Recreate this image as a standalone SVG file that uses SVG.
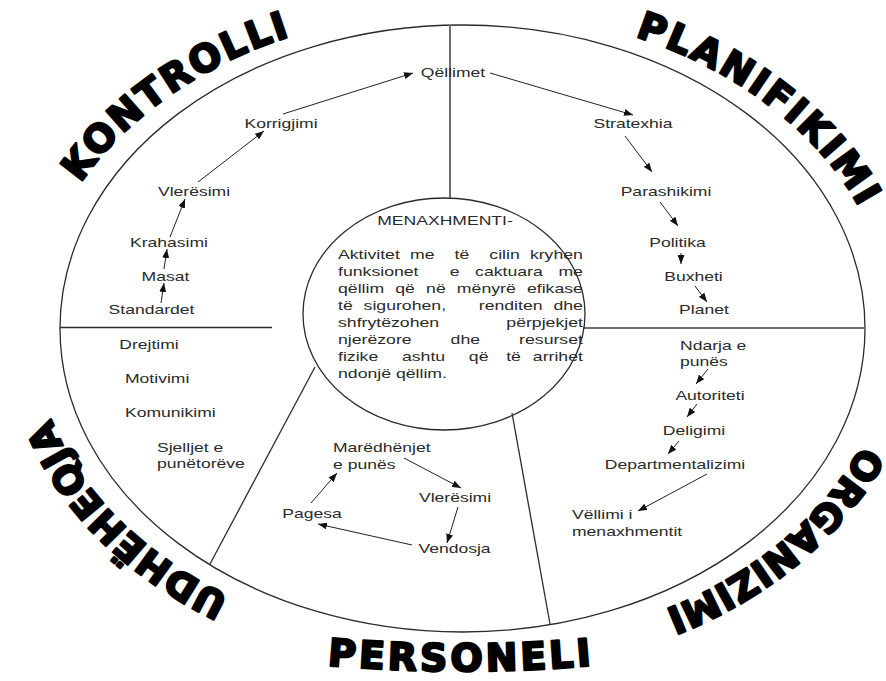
<svg xmlns="http://www.w3.org/2000/svg" width="886" height="681" viewBox="0 0 886 681">
<style>
.frame{fill:none;stroke:#2b2b2b;stroke-width:1.3}
.gray{stroke:#6e6e6e;stroke-width:2;fill:none}
.t{font-family:"Liberation Sans",Arial,sans-serif;font-size:13px;fill:#2a2a2a;text-anchor:middle}
.l{text-anchor:start}
.e{text-anchor:end}
.big{font-family:"DejaVu Sans","Liberation Sans",sans-serif;font-weight:bold;font-size:38px;fill:#000;stroke:#000;stroke-width:2.3;stroke-linejoin:round;text-anchor:middle}
.arr{stroke:#222;stroke-width:1;fill:none;marker-end:url(#ah)}
</style>
<defs>
<marker id="ah" markerWidth="9" markerHeight="7" refX="9" refY="3.5" orient="auto" markerUnits="userSpaceOnUse"><path d="M0,0 L9,3.5 L0,7 z" fill="#111"/></marker>
<path id="pK" d="M 33.8 341.3 A 429 319 0 0 1 457.3 9.5"/>
<path id="pP" d="M 486.4 10.0 A 429 319 0 0 1 890.0 355.2"/>
<path id="pO" d="M 887.6 285.8 A 429 319 0 0 1 505.1 645.9"/>
<path id="pU" d="M 384.3 642.2 A 429 319 0 0 1 43.7 259.5"/>
<path id="pS" d="M 161 641 A 1500 1500 0 0 0 761 641"/>
</defs>
<rect width="886" height="681" fill="#fff"/>
<g id="frame">
<ellipse class="frame" cx="462.5" cy="328.5" rx="402.5" ry="303.5"/>
<line class="gray" x1="450" y1="25" x2="450" y2="198"/>
<line class="frame" x1="60" y1="327.5" x2="272" y2="327.5"/>
<line class="gray" x1="583" y1="328" x2="865" y2="328"/>
<line class="frame" x1="315" y1="367" x2="210" y2="564" stroke-width="1.6"/>
<line class="frame" x1="512" y1="413" x2="550" y2="624" stroke-width="1.6"/>
</g>
<g id="labels">
<text class="big"><textPath href="#pK" startOffset="50%" letter-spacing="2.3">KONTROLLI</textPath></text>
<text class="big"><textPath href="#pP" startOffset="50%" letter-spacing="2.5">PLANIFIKIMI</textPath></text>
<text class="big"><textPath href="#pO" startOffset="50%">ORGANIZIMI</textPath></text>
<text class="big"><textPath href="#pU" startOffset="50%" letter-spacing="0.5">UDHËHEQJA</textPath></text>
<text class="big"><textPath href="#pS" startOffset="50%" letter-spacing="3.2">PERSONELI</textPath></text>
</g>
<g id="center">
<ellipse class="frame" cx="444" cy="314" rx="141" ry="116" fill="#fff"/>
<text class="t" transform="matrix(1.35 0 0 1 445 225)">MENAXHMENTI-</text>
<g class="para">
<g transform="matrix(1.36 0 0 1 338 259)"><text class="t l" x="0">Aktivitet</text><text class="t l" x="52.9">me</text><text class="t l" x="85.7">të</text><text class="t l" x="111.3">cilin</text><text class="t e" x="180.1">kryhen</text></g>
<g transform="matrix(1.36 0 0 1 338 276)"><text class="t l" x="0">funksionet</text><text class="t l" x="82.1">e</text><text class="t l" x="100.8">caktuara</text><text class="t e" x="180.1">me</text></g>
<g transform="matrix(1.36 0 0 1 338 293)"><text class="t l" x="0">qëllim</text><text class="t l" x="42.1">që</text><text class="t l" x="64.8">në</text><text class="t l" x="87.4">mënyrë</text><text class="t e" x="180.1">efikase</text></g>
<g transform="matrix(1.36 0 0 1 338 310)"><text class="t l" x="0">të</text><text class="t l" x="18.8">sigurohen,</text><text class="t l" x="103.5">renditen</text><text class="t e" x="180.1">dhe</text></g>
<g transform="matrix(1.36 0 0 1 338 327)"><text class="t l" x="0">shfrytëzohen</text><text class="t e" x="180.1">përpjekjet</text></g>
<g transform="matrix(1.36 0 0 1 338 344)"><text class="t l" x="0">njerëzore</text><text class="t l" x="82.8">dhe</text><text class="t e" x="180.1">resurset</text></g>
<g transform="matrix(1.36 0 0 1 338 361)"><text class="t l" x="0">fizike</text><text class="t l" x="47">ashtu</text><text class="t l" x="96.2">që</text><text class="t l" x="123.7">të</text><text class="t e" x="180.1">arrihet</text></g>
<g transform="matrix(1.36 0 0 1 338 378)"><text class="t l" x="0">ndonjë qëllim.</text></g>
</g>
</g>
<g id="connectors">
<line class="arr" x1="161" y1="303" x2="164" y2="283"/>
<line class="arr" x1="164" y1="269" x2="167" y2="249"/>
<line class="arr" x1="170" y1="237" x2="185" y2="199"/>
<line class="arr" x1="198" y1="182" x2="264" y2="131"/>
<line class="arr" x1="283" y1="114" x2="413" y2="73"/>
<line class="arr" x1="490" y1="73" x2="633" y2="115"/>
<line class="arr" x1="625" y1="136" x2="652" y2="172"/>
<line class="arr" x1="660" y1="202" x2="678" y2="226"/>
<line class="arr" x1="681" y1="253" x2="681" y2="264"/>
<line class="arr" x1="695" y1="286" x2="707" y2="302"/>
<line class="arr" x1="708" y1="369" x2="696" y2="384"/>
<line class="arr" x1="697" y1="404" x2="687" y2="417"/>
<line class="arr" x1="679" y1="441" x2="668" y2="454"/>
<line class="arr" x1="707" y1="474" x2="638" y2="511"/>
<line class="arr" x1="404" y1="458" x2="461" y2="488"/>
<line class="arr" x1="458" y1="507" x2="447" y2="543"/>
<line class="arr" x1="412" y1="545" x2="318" y2="524"/>
<line class="arr" x1="311" y1="503" x2="337" y2="473"/>
</g>
<g id="n-qellimet"><text class="t" transform="matrix(1.35 0 0 1 453 77)">Qëllimet</text></g>
<g id="n-korrigjimi"><text class="t" transform="matrix(1.35 0 0 1 281 128)">Korrigjimi</text></g>
<g id="n-vleresimi1"><text class="t" transform="matrix(1.35 0 0 1 194 196)">Vlerësimi</text></g>
<g id="n-krahasimi"><text class="t" transform="matrix(1.35 0 0 1 169 247)">Krahasimi</text></g>
<g id="n-masat"><text class="t" transform="matrix(1.35 0 0 1 165.5 281)">Masat</text></g>
<g id="n-standardet"><text class="t" transform="matrix(1.35 0 0 1 151.5 314)">Standardet</text></g>
<g id="n-stratexhia"><text class="t" transform="matrix(1.35 0 0 1 633 128)">Stratexhia</text></g>
<g id="n-parashikimi"><text class="t" transform="matrix(1.35 0 0 1 666 196)">Parashikimi</text></g>
<g id="n-politika"><text class="t" transform="matrix(1.35 0 0 1 677.5 247)">Politika</text></g>
<g id="n-buxheti"><text class="t" transform="matrix(1.35 0 0 1 693.5 281)">Buxheti</text></g>
<g id="n-planet"><text class="t" transform="matrix(1.35 0 0 1 704 314)">Planet</text></g>
<g id="n-ndarja" transform="matrix(1.35 0 0 1 680 0)"><text class="t l" y="350">Ndarja e</text><text class="t l" y="366">punës</text></g>
<g id="n-autoriteti"><text class="t" transform="matrix(1.35 0 0 1 710 400)">Autoriteti</text></g>
<g id="n-deligimi"><text class="t" transform="matrix(1.35 0 0 1 694 435)">Deligimi</text></g>
<g id="n-departmentalizimi"><text class="t" transform="matrix(1.35 0 0 1 675 469)">Departmentalizimi</text></g>
<g id="n-vellimi" transform="matrix(1.35 0 0 1 572 0)"><text class="t l" y="519">Vëllimi i</text><text class="t l" y="536">menaxhmentit</text></g>
<g id="n-maredhenjet" transform="matrix(1.35 0 0 1 333 0)"><text class="t l" y="452">Marëdhënjet</text><text class="t l" y="469">e punës</text></g>
<g id="n-vleresimi2"><text class="t" transform="matrix(1.35 0 0 1 455 502)">Vlerësimi</text></g>
<g id="n-vendosja"><text class="t" transform="matrix(1.35 0 0 1 454.5 553)">Vendosja</text></g>
<g id="n-pagesa"><text class="t" transform="matrix(1.35 0 0 1 312 518)">Pagesa</text></g>
<g id="n-drejtimi"><text class="t" transform="matrix(1.35 0 0 1 149 349)">Drejtimi</text></g>
<g id="n-motivimi" transform="matrix(1.35 0 0 1 125 0)"><text class="t l" y="383">Motivimi</text></g>
<g id="n-komunikimi" transform="matrix(1.35 0 0 1 125 0)"><text class="t l" y="417">Komunikimi</text></g>
<g id="n-sjelljet" transform="matrix(1.35 0 0 1 157 0)"><text class="t l" y="452">Sjelljet e</text><text class="t l" y="468">punëtorëve</text></g>
</svg>
